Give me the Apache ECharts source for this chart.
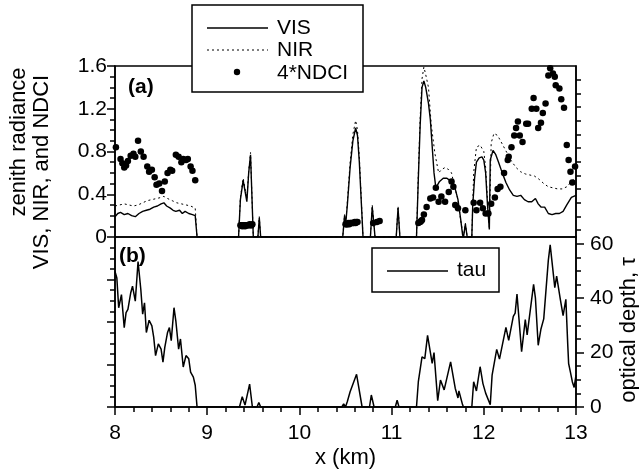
<!DOCTYPE html>
<html>
<head>
<meta charset="utf-8">
<script src="https://cdn.jsdelivr.net/npm/echarts@6/dist/echarts.min.js"></script>
<style>
  html, body { margin: 0; padding: 0; background: #fff; }
  #chart { width: 639px; height: 470px; }
</style>
</head>
<body>
<div id="chart"></div>
<script>
// panel (a) – zenith radiance
var visKm = [8.00, 8.03, 8.06, 8.10, 8.14, 8.18, 8.22, 8.26, 8.30, 8.34, 8.38, 8.42, 8.46, 8.50, 8.53, 8.56, 8.60, 8.63, 8.66, 8.70, 8.73, 8.76, 8.80, 8.84, 8.87, 8.89,
  9.34, 9.36, 9.39, 9.43, 9.45, 9.47, 9.50, 9.55, 9.565, 9.58,
  10.47, 10.49, 10.50, 10.52, 10.55, 10.58, 10.61, 10.63, 10.65, 10.67, 10.69,
  10.77, 10.79, 10.81, 10.82, 11.05, 11.07, 11.09,
  11.27, 11.29, 11.31, 11.33, 11.35, 11.37, 11.40, 11.42, 11.44, 11.46, 11.48, 11.52, 11.56, 11.60, 11.63, 11.66, 11.69, 11.72, 11.75, 11.77, 11.78, 11.80, 11.82,
  11.87, 11.88, 11.90, 11.92, 11.95, 11.98, 12.00, 12.02, 12.04, 12.06, 12.07, 12.10, 12.13, 12.16, 12.20, 12.24, 12.28, 12.32, 12.36, 12.40, 12.44, 12.48, 12.52,
  12.56, 12.59, 12.62, 12.66, 12.70, 12.74, 12.78, 12.82, 12.86, 12.90, 12.95, 13.00];
var visVal = [0.19, 0.22, 0.23, 0.21, 0.22, 0.20, 0.19, 0.22, 0.24, 0.25, 0.26, 0.28, 0.29, 0.31, 0.32, 0.29, 0.27, 0.25, 0.24, 0.25, 0.22, 0.24, 0.22, 0.21, 0.20, 0,
  0, 0.35, 0.53, 0.33, 0.60, 0.77, 0, 0, 0.18, 0,
  0, 0.20, 0.10, 0.30, 0.65, 0.90, 1.02, 0.95, 0.70, 0.35, 0,
  0, 0.28, 0.10, 0, 0, 0.27, 0,
  0, 0.55, 1.05, 1.40, 1.46, 1.40, 1.25, 1.10, 0.85, 0.60, 0.46, 0.52, 0.55, 0.55, 0.53, 0.50, 0.45, 0.35, 0.16, 0.02, 0, 0.12, 0,
  0, 0.30, 0.55, 0.70, 0.74, 0.75, 0.72, 0.60, 0.30, 0.07, 0.72, 0.81, 0.77, 0.70, 0.60, 0.51, 0.44, 0.39, 0.38, 0.39, 0.35, 0.33, 0.33,
  0.36, 0.31, 0.28, 0.28, 0.22, 0.21, 0.22, 0.22, 0.24, 0.30, 0.37, 0.39];

var nirKm = [8.00, 8.05, 8.10, 8.15, 8.20, 8.25, 8.30, 8.35, 8.40, 8.45, 8.50, 8.53, 8.57, 8.62, 8.67, 8.72, 8.77, 8.82, 8.87, 8.89,
  9.34, 9.36, 9.39, 9.43, 9.45, 9.47, 9.50, 9.55, 9.565, 9.58,
  10.47, 10.49, 10.50, 10.52, 10.55, 10.58, 10.61, 10.63, 10.65, 10.67, 10.69,
  10.77, 10.79, 10.81, 10.82, 11.05, 11.07, 11.09,
  11.27, 11.29, 11.31, 11.33, 11.35, 11.37, 11.40, 11.43, 11.47, 11.51, 11.54, 11.58, 11.62, 11.65, 11.68, 11.72, 11.75, 11.78, 11.80, 11.82,
  11.87, 11.89, 11.92, 11.96, 12.00, 12.02, 12.04, 12.06, 12.08, 12.11, 12.15, 12.20, 12.25, 12.30, 12.35, 12.40, 12.45, 12.50,
  12.55, 12.60, 12.65, 12.70, 12.75, 12.80, 12.85, 12.90, 12.95, 13.00];
var nirVal = [0.29, 0.30, 0.31, 0.30, 0.29, 0.30, 0.32, 0.34, 0.35, 0.36, 0.37, 0.38, 0.36, 0.34, 0.32, 0.31, 0.30, 0.29, 0.27, 0,
  0, 0.37, 0.55, 0.36, 0.62, 0.79, 0, 0, 0.19, 0,
  0, 0.21, 0.10, 0.33, 0.70, 0.96, 1.09, 1.00, 0.75, 0.38, 0,
  0, 0.30, 0.10, 0, 0, 0.29, 0,
  0, 0.60, 1.12, 1.48, 1.59, 1.52, 1.40, 1.05, 0.78, 0.60, 0.63, 0.65, 0.63, 0.60, 0.48, 0.35, 0.15, 0, 0.13, 0,
  0, 0.60, 0.84, 0.86, 0.80, 0.65, 0.35, 0.08, 0.88, 0.97, 0.95, 0.87, 0.79, 0.71, 0.65, 0.61, 0.59, 0.58,
  0.57, 0.54, 0.50, 0.47, 0.46, 0.45, 0.45, 0.47, 0.52, 0.56];

var ndciKm = [8.01, 8.06, 8.08, 8.10, 8.12, 8.14, 8.17, 8.20, 8.22, 8.25, 8.28, 8.31, 8.35, 8.37, 8.40, 8.43, 8.45, 8.48, 8.51, 8.54, 8.57, 8.60, 8.62, 8.66, 8.69, 8.72, 8.74, 8.77, 8.79, 8.82, 8.84, 8.87,
  9.36, 9.37, 9.38, 9.39, 9.40, 9.41, 9.42, 9.43, 9.44, 9.45, 9.46, 9.47, 9.48, 9.49,
  10.50, 10.51, 10.52, 10.53, 10.54, 10.55, 10.56, 10.57, 10.58, 10.59, 10.60, 10.61, 10.62, 10.63,
  10.80, 10.84, 10.87, 11.29, 11.31, 11.32,
  11.33, 11.35, 11.38, 11.42, 11.45, 11.48, 11.51, 11.54, 11.58, 11.62, 11.65, 11.67, 11.69, 11.72, 11.80, 11.89, 11.92, 11.96, 11.99, 12.02, 12.05, 12.08,
  12.12, 12.15, 12.18, 12.22, 12.26, 12.27, 12.30, 12.33, 12.35, 12.37, 12.39, 12.42, 12.46, 12.48, 12.52, 12.54, 12.57, 12.59, 12.62, 12.64, 12.67,
  12.70, 12.72, 12.75, 12.77, 12.78, 12.82, 12.84, 12.87, 12.90, 12.92, 12.94, 12.96, 12.99];
var ndciVal = [0.84, 0.73, 0.69, 0.65, 0.67, 0.71, 0.76, 0.78, 0.75, 0.90, 0.80, 0.75, 0.66, 0.61, 0.63, 0.56, 0.49, 0.50, 0.43, 0.52, 0.60, 0.63, 0.62, 0.77, 0.75, 0.70, 0.73, 0.72, 0.73, 0.66, 0.62, 0.53,
  0.11, 0.11, 0.10, 0.11, 0.11, 0.10, 0.11, 0.11, 0.11, 0.11, 0.12, 0.11, 0.11, 0.12,
  0.12, 0.12, 0.12, 0.13, 0.12, 0.13, 0.13, 0.13, 0.13, 0.13, 0.14, 0.13, 0.14, 0.14,
  0.13, 0.14, 0.15, 0.13, 0.14, 0.15,
  0.16, 0.21, 0.28, 0.36, 0.37, 0.46, 0.33, 0.38, 0.33, 0.42, 0.52, 0.47, 0.30, 0.27, 0.25, 0.32, 0.25, 0.32, 0.27, 0.22, 0.22, 0.31,
  0.37, 0.45, 0.47, 0.60, 0.72, 0.75, 0.84, 0.95, 1.02, 1.08, 0.95, 0.89, 1.06, 1.06, 1.20, 1.30, 1.20, 1.02, 1.07, 1.16, 1.25,
  1.51, 1.58, 1.53, 1.50, 1.42, 1.39, 1.29, 1.21, 0.86, 0.72, 0.61, 0.51, 0.66];

// panel (b) – optical depth
var tauKm = [8.00, 8.02, 8.04, 8.07, 8.10, 8.12, 8.14, 8.17, 8.19, 8.22, 8.25, 8.28, 8.30, 8.32, 8.34, 8.37, 8.40, 8.42, 8.44, 8.47, 8.50, 8.52, 8.54, 8.57, 8.59, 8.61, 8.64, 8.66, 8.69, 8.71, 8.74, 8.77, 8.80, 8.82, 8.85, 8.87, 8.89,
  9.35, 9.38, 9.41, 9.46, 9.49, 9.54, 9.56, 9.58,
  10.46, 10.48, 10.50, 10.52, 10.55, 10.62, 10.68, 10.76, 10.78, 10.81, 11.04, 11.06, 11.08,
  11.27, 11.29, 11.33, 11.36, 11.39, 11.44, 11.46, 11.50, 11.53, 11.57, 11.64, 11.69, 11.72, 11.73, 11.77, 11.78,
  11.87, 11.89, 11.92, 11.96, 11.99, 12.02, 12.07, 12.09, 12.14, 12.17, 12.24, 12.27, 12.32, 12.34, 12.36, 12.41, 12.45, 12.47, 12.54, 12.56, 12.59, 12.62, 12.65,
  12.70, 12.72, 12.77, 12.79, 12.83, 12.86, 12.89, 12.91, 12.92, 12.94, 12.96, 12.98, 13.00];
var tauVal = [49.8, 47.4, 36.5, 41.3, 29.2, 34.7, 35.9, 41.9, 44.4, 38.9, 53.5, 43.2, 34.1, 38.3, 27.4, 31.9, 29.8, 25.6, 18.9, 23.2, 21.3, 16.5, 21.9, 27.4, 29.2, 24.4, 36.5, 31.6, 21.3, 25.0, 14.7, 18.9, 17.7, 12.8, 11.0, 8.0, 0,
  0, 3.8, 0.7, 8.4, 0, 0, 1.6, 0,
  0, 1.1, 0, 2.0, 5.6, 12.0, 0, 0, 4.4, 0, 0, 2.5, 0,
  0, 9.3, 18.4, 17.8, 26.3, 16.0, 20.0, 2.3, 9.9, 6.3, 16.6, 6.9, 3.3, 5.9, 0.8, 0,
  0, 9.3, 5.9, 14.8, 8.7, 5.1, 0.8, 11.7, 21.2, 17.6, 29.3, 24.5, 33.3, 34.5, 41.5, 20.3, 32.1, 26.5, 45.1, 40.0, 22.7, 28.7, 32.4,
  54.0, 59.6, 43.9, 48.1, 39.6, 33.6, 39.6, 23.3, 16.0, 12.7, 9.3, 7.2, 11.7];

var tauLabels = [0, 20, 40, 60];
var tauMinor = [5, 10, 15, 25, 30, 35, 45, 50, 55];
var upperRightTicks = [65, 70, 75, 80, 85, 90, 95, 100, 105, 110, 115, 120];

function zip(xs, ys) {
  return xs.map(function (x, i) { return [x, ys[i]]; });
}

var FONT = 'Liberation Sans, Arial, sans-serif';
var chart = echarts.init(document.getElementById('chart'), null, { renderer: 'canvas' });

var labelStyle = { color: '#000', fontSize: 21, fontFamily: FONT };

var option = {
  animation: false,
  backgroundColor: '#fff',
  grid: [
    { left: 115, right: 63, top: 66, height: 171, show: true, borderColor: '#000', borderWidth: 1.5 },
    { left: 115, right: 63, top: 237, height: 172, show: true, borderColor: '#000', borderWidth: 1.5 }
  ],
  xAxis: [
    { gridIndex: 0, type: 'value', min: 8, max: 13, interval: 1,
      axisLine: { show: false }, axisTick: { show: false }, axisLabel: { show: false }, splitLine: { show: false } },
    { gridIndex: 1, type: 'value', min: 8, max: 13, interval: 1,
      name: 'x (km)', nameLocation: 'middle', nameGap: 40,
      nameTextStyle: { color: '#000', fontSize: 22, fontFamily: FONT },
      axisLine: { lineStyle: { color: '#000', width: 1.5 } },
      axisTick: { length: 8, lineStyle: { color: '#000', width: 1.5 } },
      minorTick: { show: true, splitNumber: 5, length: 5, lineStyle: { color: '#000', width: 1.5 } },
      axisLabel: Object.assign({ margin: 16 }, labelStyle),
      splitLine: { show: false } }
  ],
  yAxis: [
    { gridIndex: 0, type: 'value', position: 'left', min: 0, max: 1.6, interval: 0.4,
      axisLine: { show: true, lineStyle: { color: '#000', width: 1.5 } },
      axisTick: { length: 8, lineStyle: { color: '#000', width: 1.5 } },
      minorTick: { show: true, splitNumber: 4, length: 5, lineStyle: { color: '#000', width: 1.5 } },
      axisLabel: Object.assign({ margin: 8 }, labelStyle),
      splitLine: { show: false } },
    { gridIndex: 0, type: 'value', position: 'right', min: 62.5, max: 125,
      axisLine: { show: true, lineStyle: { color: '#000', width: 1.5 } },
      axisTick: { length: 5, customValues: upperRightTicks, lineStyle: { color: '#000', width: 1.5 } },
      axisLabel: { show: false }, splitLine: { show: false } },
    { gridIndex: 1, type: 'value', position: 'left', min: 0, max: 1.6, interval: 0.4,
      axisLine: { show: true, lineStyle: { color: '#000', width: 1.5 } },
      axisTick: { length: 8, lineStyle: { color: '#000', width: 1.5 } },
      minorTick: { show: true, splitNumber: 4, length: 5, lineStyle: { color: '#000', width: 1.5 } },
      axisLabel: { show: false }, splitLine: { show: false } },
    { gridIndex: 1, type: 'value', position: 'right', min: 0, max: 62.5,
      axisLine: { show: true, lineStyle: { color: '#000', width: 1.5 } },
      axisTick: { length: 8, customValues: tauLabels, lineStyle: { color: '#000', width: 1.5 } },
      axisLabel: Object.assign({ margin: 14, customValues: tauLabels }, labelStyle),
      splitLine: { show: false } },
    { gridIndex: 1, type: 'value', position: 'right', min: 0, max: 62.5,
      axisLine: { show: false },
      axisTick: { length: 5, customValues: tauMinor, lineStyle: { color: '#000', width: 1.5 } },
      axisLabel: { show: false }, splitLine: { show: false } }
  ],
  series: [
    { name: 'VIS', type: 'line', xAxisIndex: 0, yAxisIndex: 0, data: zip(visKm, visVal),
      symbol: 'none', lineStyle: { color: '#000', width: 1.4 } },
    { name: 'NIR', type: 'line', xAxisIndex: 0, yAxisIndex: 0, data: zip(nirKm, nirVal),
      symbol: 'none', lineStyle: { color: '#000', width: 1, type: [2, 3] } },
    { name: '4*NDCI', type: 'scatter', xAxisIndex: 0, yAxisIndex: 0, data: zip(ndciKm, ndciVal),
      symbol: 'circle', symbolSize: 6.5, itemStyle: { color: '#000', opacity: 1 } },
    { name: 'tau', type: 'line', xAxisIndex: 1, yAxisIndex: 3, data: zip(tauKm, tauVal),
      symbol: 'none', lineStyle: { color: '#000', width: 1.5 } }
  ],
  graphic: [
    // legend (a)
    { type: 'rect', z: 100, shape: { x: 192, y: 5, width: 171, height: 87 },
      style: { fill: '#fff', stroke: '#000', lineWidth: 1.5 } },
    { type: 'line', z: 101, shape: { x1: 207, y1: 28, x2: 268, y2: 28 }, style: { stroke: '#000', lineWidth: 1.4 } },
    { type: 'line', z: 101, shape: { x1: 207, y1: 50, x2: 268, y2: 50 }, style: { stroke: '#000', lineWidth: 1, lineDash: [2, 3] } },
    { type: 'circle', z: 101, shape: { cx: 237, cy: 72, r: 3.2 }, style: { fill: '#000' } },
    { type: 'text', z: 101, x: 277, y: 28, style: { text: 'VIS', fill: '#000', font: '21px ' + FONT, verticalAlign: 'middle' } },
    { type: 'text', z: 101, x: 277, y: 50, style: { text: 'NIR', fill: '#000', font: '21px ' + FONT, verticalAlign: 'middle' } },
    { type: 'text', z: 101, x: 277, y: 73, style: { text: '4*NDCI', fill: '#000', font: '21px ' + FONT, verticalAlign: 'middle' } },
    // legend (b)
    { type: 'rect', z: 100, shape: { x: 372, y: 248, width: 127, height: 44 },
      style: { fill: '#fff', stroke: '#000', lineWidth: 1.5 } },
    { type: 'line', z: 101, shape: { x1: 387, y1: 271, x2: 448, y2: 271 }, style: { stroke: '#000', lineWidth: 1.5 } },
    { type: 'text', z: 101, x: 457, y: 270, style: { text: 'tau', fill: '#000', font: '21px ' + FONT, verticalAlign: 'middle' } },
    // panel tags
    { type: 'text', z: 101, x: 128, y: 87, style: { text: '(a)', fill: '#000', font: 'bold 21px ' + FONT, verticalAlign: 'middle' } },
    { type: 'text', z: 101, x: 119, y: 256, style: { text: '(b)', fill: '#000', font: 'bold 21px ' + FONT, verticalAlign: 'middle' } },
    // axis titles
    { type: 'text', z: 101, x: 19, y: 142, rotation: Math.PI / 2,
      style: { text: 'zenith radiance', fill: '#000', font: '22px ' + FONT, align: 'center', verticalAlign: 'middle' } },
    { type: 'text', z: 101, x: 42, y: 172, rotation: Math.PI / 2,
      style: { text: 'VIS, NIR, and NDCI', fill: '#000', font: '22px ' + FONT, align: 'center', verticalAlign: 'middle' } },
    { type: 'text', z: 101, x: 629, y: 330, rotation: Math.PI / 2,
      style: { text: 'optical depth, τ', fill: '#000', font: '22px ' + FONT, align: 'center', verticalAlign: 'middle' } }
  ]
};

chart.setOption(option);
</script>
</body>
</html>
